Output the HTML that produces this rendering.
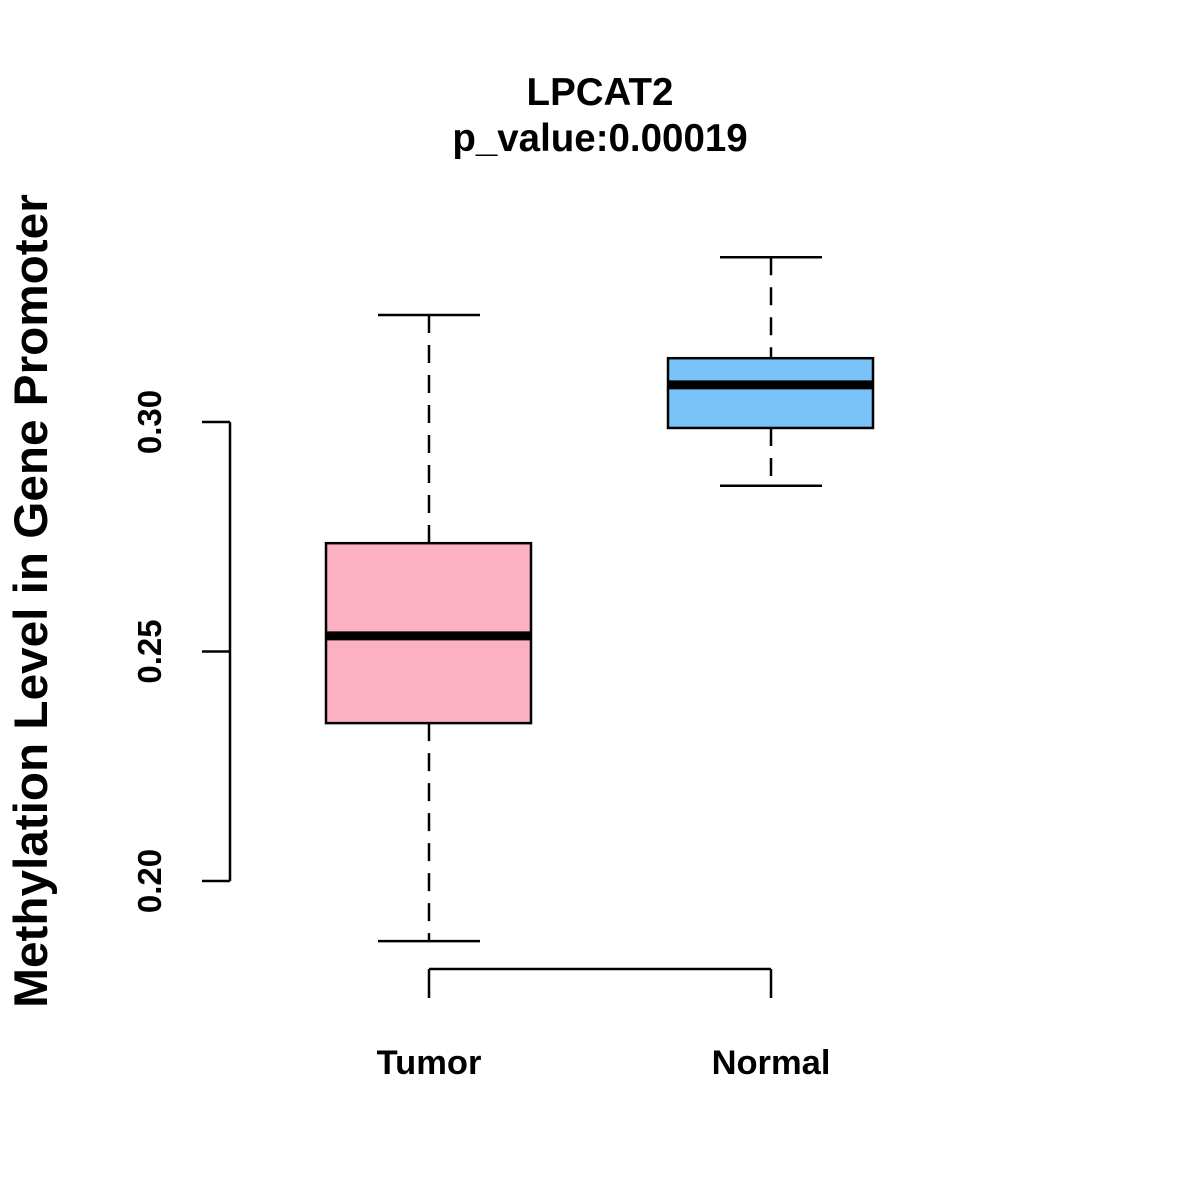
<!DOCTYPE html>
<html><head><meta charset="utf-8"><style>
html,body{margin:0;padding:0;background:#fff;}
svg{display:block;font-family:"Liberation Sans",Arial,sans-serif;font-weight:bold;}
</style></head><body>
<svg id="chart" width="1200" height="1200" viewBox="0 0 1200 1200">
<text x="600" y="105" text-anchor="middle" font-size="38.5">LPCAT2</text>
<text x="600" y="151" text-anchor="middle" font-size="38.5">p_value:0.00019</text>
<text transform="translate(47,601) rotate(-90)" text-anchor="middle" font-size="47.7">Methylation Level in Gene Promoter</text>
<g id="yaxis"></g>
<g id="xaxis"></g>
<g id="boxes"></g>
</svg>
<script>
const categories = ["Tumor", "Normal"];
const whiskerLow = [0.1869, 0.2861];
const q1 = [0.2344, 0.2987];
const medians = [0.2534, 0.3081];
const q3 = [0.2736, 0.3139];
const whiskerHigh = [0.3233, 0.3359];
const fills = ["#FCB1C3", "#79C3F9"];
const yTicks = [0.20, 0.25, 0.30];
const yTickLabels = ["0.20", "0.25", "0.30"];

const NS = "http://www.w3.org/2000/svg";
function y(v){ return 881 - (v - 0.20) * 4590; }
function x(i){ return 429 + i * 342; }
function mk(parent, tag, attrs){
  const e = document.createElementNS(NS, tag);
  for (const k in attrs) e.setAttribute(k, attrs[k]);
  parent.appendChild(e); return e;
}
const ya = document.getElementById("yaxis");
const yl = mk(ya, "line", {x1:230, x2:230, y1:y(yTicks[0]), y2:y(yTicks[yTicks.length-1]), stroke:"#000", "stroke-width":2.5});


yTicks.forEach((t, i) => {
  const tk = mk(ya, "line", {x1:202, x2:230, y1:y(t), y2:y(t), stroke:"#000", "stroke-width":2.5});
  
  
  const tx = mk(ya, "text", {transform:`translate(161,${y(t)}) rotate(-90)`, "text-anchor":"middle", "font-size":33});
  tx.textContent = yTickLabels[i];
  
  
});
const xa = document.getElementById("xaxis");
const xl = mk(xa, "line", {x1:x(0), x2:x(categories.length-1), y1:969, y2:969, stroke:"#000", "stroke-width":2.5});


categories.forEach((c, i) => {
  const tk = mk(xa, "line", {x1:x(i), x2:x(i), y1:969, y2:998, stroke:"#000", "stroke-width":2.5});
  
  
  const tx = mk(xa, "text", {x:x(i), y:1074, "text-anchor":"middle", "font-size":34.5});
  tx.textContent = c;
  
  
});
const bx = document.getElementById("boxes");
categories.forEach((c, i) => {
  const cx = x(i);
  const g = mk(bx, "g", {});
  
  
  mk(g, "line", {x1:cx, x2:cx, y1:y(whiskerHigh[i]), y2:y(q3[i]), stroke:"#000", "stroke-width":2.5, "stroke-dasharray":"18,12"});
  mk(g, "line", {x1:cx, x2:cx, y1:y(q1[i]), y2:y(whiskerLow[i]), stroke:"#000", "stroke-width":2.5, "stroke-dasharray":"18,12"});
  mk(g, "line", {x1:cx-51, x2:cx+51, y1:y(whiskerHigh[i]), y2:y(whiskerHigh[i]), stroke:"#000", "stroke-width":2.5});
  mk(g, "line", {x1:cx-51, x2:cx+51, y1:y(whiskerLow[i]), y2:y(whiskerLow[i]), stroke:"#000", "stroke-width":2.5});
  mk(g, "rect", {x:cx-103, y:y(q3[i]), width:205, height:y(q1[i])-y(q3[i]), fill:fills[i], stroke:"#000", "stroke-width":2.5});
  mk(g, "line", {x1:cx-103, x2:cx+102, y1:y(medians[i]), y2:y(medians[i]), stroke:"#000", "stroke-width":9});
});
</script>
</body></html>
